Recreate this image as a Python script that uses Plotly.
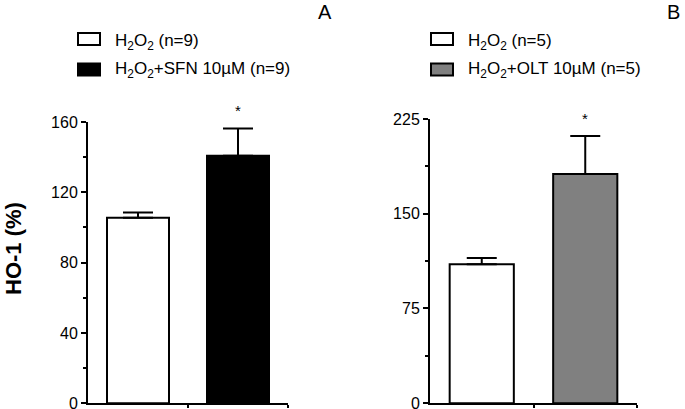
import plotly.graph_objects as go

W, H = 685, 409

# Data
groups = ["H2O2", "H2O2+treatment"]
a_values = [105.5, 140.8]
a_errors = [3.0, 15.5]
a_colors = ["#ffffff", "#000000"]
a_legend = ["H<sub>2</sub>O<sub>2</sub> (n=9)", "H<sub>2</sub>O<sub>2</sub>+SFN 10µM (n=9)"]

b_values = [110.0, 181.5]
b_errors = [5.0, 30.0]
b_colors = ["#ffffff", "#808080"]
b_legend = ["H<sub>2</sub>O<sub>2</sub> (n=5)", "H<sub>2</sub>O<sub>2</sub>+OLT 10µM (n=5)"]

a_ticks = [0, 40, 80, 120, 160]
b_ticks = [0, 75, 150, 225]

FONT = "Liberation Sans, Arial, sans-serif"

def px_x(p):
    return p / W

def px_y(p):
    return 1 - p / H

fig = go.Figure()

xpos = [0, 1]
fig.add_trace(go.Bar(
    x=xpos, y=a_values, width=0.62,
    marker=dict(color=a_colors, line=dict(color="black", width=2)),
    error_y=dict(type="data", array=a_errors, arrayminus=[0, 0], symmetric=False,
                 color="black", thickness=2, width=15),
    xaxis="x", yaxis="y", showlegend=False))
fig.add_trace(go.Bar(
    x=xpos, y=b_values, width=0.62,
    marker=dict(color=b_colors, line=dict(color="black", width=2)),
    error_y=dict(type="data", array=b_errors, arrayminus=[0, 0], symmetric=False,
                 color="black", thickness=2, width=15),
    xaxis="x2", yaxis="y2", showlegend=False))

y0 = 403.2
common_x = dict(range=[-0.5, 1.5], showgrid=False, zeroline=False, showline=True,
                linecolor="black", linewidth=2, ticks="outside", ticklen=3, tickwidth=2,
                tickcolor="black", tickmode="array", tickvals=[0.5, 1.5], showticklabels=False,
                automargin=False)
common_y = dict(showgrid=False, zeroline=False, showline=True, linecolor="black", linewidth=2,
                ticks="outside", ticklen=5, tickwidth=1.5, tickcolor="black",
                ticklabeloverflow="allow", automargin=False,
                tickfont=dict(family=FONT, size=16, color="black"), tickmode="array")

fig.update_layout(
    width=W, height=H, margin=dict(l=0, r=0, t=0, b=0, autoexpand=False),
    paper_bgcolor="white", plot_bgcolor="white",
    xaxis=dict(domain=[px_x(88), px_x(288)], anchor="y", **common_x),
    yaxis=dict(domain=[px_y(y0), px_y(122)], range=[0, 160], anchor="x",
               tickvals=a_ticks,
               minor=dict(tickmode="array", tickvals=[20, 60, 100, 140], ticklen=3,
                          tickwidth=1.5, tickcolor="black", ticks="outside"),
               **common_y),
    xaxis2=dict(domain=[px_x(430), px_x(637)], anchor="y2", **common_x),
    yaxis2=dict(domain=[px_y(y0), px_y(119)], range=[0, 225], anchor="x2",
                tickvals=b_ticks,
                minor=dict(tickmode="array", tickvals=[37.5, 112.5, 187.5], ticklen=3,
                           tickwidth=1.5, tickcolor="black", ticks="outside"),
                **common_y),
)

shapes = []
annotations = []

# Legends
def add_legend(box_x0, text_x, labels, colors):
    rows = [39, 69.5]
    text_rows = [41.5, 70.5]
    for r, tr, lab, col in zip(rows, text_rows, labels, colors):
        shapes.append(dict(type="rect", xref="paper", yref="paper",
                           x0=px_x(box_x0), x1=px_x(box_x0 + 22),
                           y0=px_y(r + 6), y1=px_y(r - 6),
                           fillcolor=col, line=dict(color="black", width=2)))
        annotations.append(dict(xref="paper", yref="paper", x=px_x(text_x), y=px_y(tr),
                                xanchor="left", yanchor="middle", text=lab, showarrow=False,
                                font=dict(family=FONT, size=17, color="black")))

add_legend(78, 113, a_legend, a_colors)
add_legend(431, 466, b_legend, b_colors)

# Panel letters
annotations.append(dict(xref="paper", yref="paper", x=px_x(325), y=px_y(12), text="A",
                        showarrow=False, xanchor="center", yanchor="middle",
                        font=dict(family=FONT, size=20, color="black")))
annotations.append(dict(xref="paper", yref="paper", x=px_x(673), y=px_y(12), text="B",
                        showarrow=False, xanchor="center", yanchor="middle",
                        font=dict(family=FONT, size=20, color="black")))

# Y title
annotations.append(dict(xref="paper", yref="paper", x=px_x(13), y=px_y(249), text="<b>HO-1 (%)</b>",
                        textangle=-90, showarrow=False, xanchor="center", yanchor="middle",
                        font=dict(family=FONT, size=22, color="black")))

# Significance asterisks
annotations.append(dict(xref="x", yref="y", x=1, y=a_values[1] + a_errors[1], text="*",
                        showarrow=False, yanchor="bottom", yshift=7,
                        font=dict(family=FONT, size=15, color="black")))
annotations.append(dict(xref="x2", yref="y2", x=1, y=b_values[1] + b_errors[1], text="*",
                        showarrow=False, yanchor="bottom", yshift=7,
                        font=dict(family=FONT, size=15, color="black")))

fig.update_layout(shapes=shapes, annotations=annotations)

fig.write_html("out.html",
               config={"displayModeBar": False},
               post_script="document.body.style.margin='0';document.body.style.padding='0';"
                           "document.body.style.overflow='hidden';"
                           "var gd=document.getElementById('{plot_id}');"
                           "gd.style.position='fixed';gd.style.top='0px';gd.style.left='0px';")
